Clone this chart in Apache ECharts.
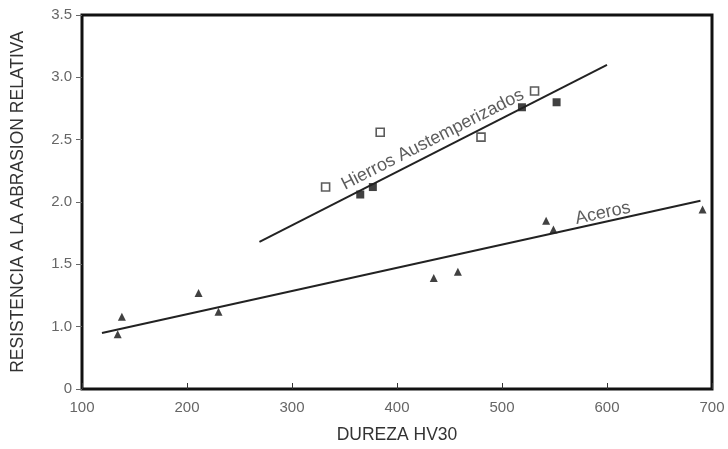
<!DOCTYPE html>
<html>
<head>
<meta charset="utf-8">
<script src="https://cdn.jsdelivr.net/npm/echarts@6/dist/echarts.min.js"></script>
<style>
  html, body { margin: 0; padding: 0; background: #fff; }
  #chart { width: 728px; height: 449px; }
</style>
</head>
<body>
<div id="chart"></div>
<script>
// Hierros austemperizados - open squares
const hierrosOpen = [[332, 2.12], [384, 2.56], [480, 2.52], [531, 2.89]];
// Hierros austemperizados - filled squares
const hierrosFilled = [[365, 2.06], [377, 2.12], [519, 2.76], [552, 2.80]];
// Aceros - triangles
const aceros = [[134, 0.94], [138, 1.08], [211, 1.27], [230, 1.12], [435, 1.39],
  [458, 1.44], [542, 1.85], [549, 1.78], [691, 1.94]];
// trend lines (end points)
const hierrosLine = [[269, 1.68], [600, 3.10]];
const acerosLine = [[119, 0.95], [689, 2.01]];
// annotation anchors
const hierrosLabelAt = [434, 2.5];
const acerosLabelAt = [596, 1.91];
// y axis is broken: bottom tick is labelled 0
const yTicks = [0.5, 1.0, 1.5, 2.0, 2.5, 3.0, 3.5];

const chart = echarts.init(document.getElementById('chart'));
const font = 'Liberation Sans, Arial, sans-serif';

chart.setOption({
  animation: false,
  grid: {
    left: 82, right: 16, top: 15, bottom: 59,
    show: true, borderColor: '#111', borderWidth: 3
  },
  xAxis: {
    type: 'value', min: 100, max: 700, interval: 100,
    name: 'DUREZA HV30', nameLocation: 'middle', nameGap: 37,
    nameTextStyle: { color: '#333', fontSize: 17.5, fontFamily: font },
    axisLine: { show: false },
    axisTick: { inside: true, length: 6, lineStyle: { color: '#333' } },
    axisLabel: { color: '#666', fontSize: 15, fontFamily: font, margin: 11 },
    splitLine: { show: false }
  },
  yAxis: {
    type: 'value', min: 0.5, max: 3.5, interval: 0.5,
    name: 'RESISTENCIA A LA ABRASION RELATIVA', nameLocation: 'middle', nameGap: 55,
    nameTextStyle: { color: '#333', fontSize: 17.5, fontFamily: font },
    axisLine: { show: false },
    axisTick: { length: 6, lineStyle: { color: '#666' } },
    axisLabel: {
      color: '#666', fontSize: 15, fontFamily: font, margin: 10,
      formatter: v => (v === yTicks[0] ? '0' : v.toFixed(1))
    },
    splitLine: { show: false }
  },
  series: [
    {
      type: 'line', data: hierrosLine, symbol: 'none',
      lineStyle: { color: '#222', width: 2 }
    },
    {
      type: 'line', data: acerosLine, symbol: 'none',
      lineStyle: { color: '#222', width: 2 }
    },
    {
      type: 'scatter', data: hierrosOpen, symbol: 'rect', symbolSize: 8,
      itemStyle: { color: '#fff', borderColor: '#333', borderWidth: 1.6 }
    },
    {
      type: 'scatter', data: hierrosFilled, symbol: 'rect', symbolSize: 8,
      itemStyle: { color: '#111' }
    },
    {
      type: 'scatter', data: aceros, symbol: 'triangle', symbolSize: 8,
      itemStyle: { color: '#111' }
    },
    {
      type: 'scatter', symbolSize: 0, silent: true,
      data: [
        { value: hierrosLabelAt, label: { formatter: 'Hierros Austemperizados', rotate: 27 } },
        { value: acerosLabelAt, label: { formatter: 'Aceros', rotate: 12 } }
      ],
      label: {
        show: true, position: 'inside', color: '#333',
        fontSize: 18, fontFamily: font
      }
    }
  ]
});
</script>
</body>
</html>
